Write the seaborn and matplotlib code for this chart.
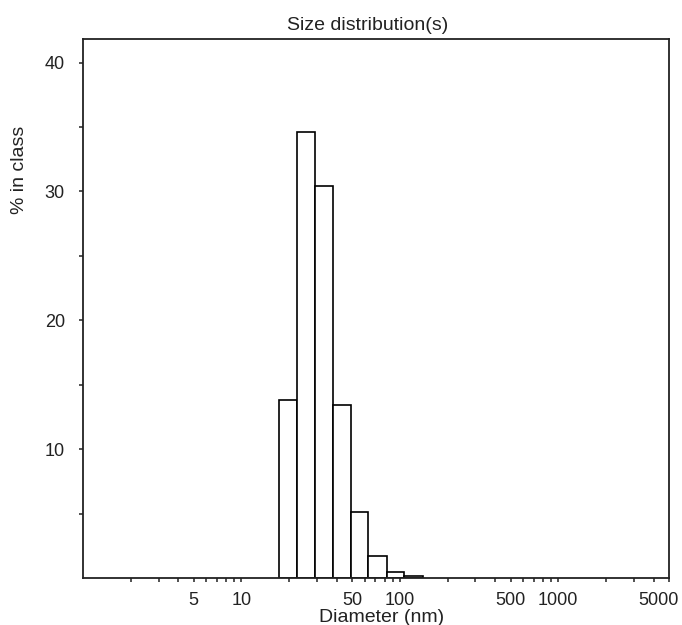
import numpy as np
import pandas as pd
import seaborn as sns
import matplotlib.pyplot as plt
from matplotlib.ticker import FixedLocator, NullFormatter
from matplotlib.transforms import ScaledTranslation

# size classes (nm) and % in class
bin_edges = [17.3, 22.3, 29.1, 37.7, 49.0, 63.3, 82.7, 106.0, 139.0]
pct_in_class = [13.8, 34.6, 30.4, 13.4, 5.1, 1.7, 0.5, 0.15]

x_major = [5, 10, 50, 100, 500, 1000, 5000]
x_minor = [2, 3, 4, 6, 7, 8, 9, 20, 30, 40, 60, 70, 80, 90,
           200, 300, 400, 600, 700, 800, 900, 2000, 3000, 4000]
y_major = [10, 20, 30, 40]
y_minor = [5, 15, 25, 35]

edges = np.array(bin_edges)
df = pd.DataFrame({"diameter": np.sqrt(edges[:-1] * edges[1:]),
                   "pct": pct_in_class})

sns.set_style("ticks")
plt.rcParams["font.family"] = ["Liberation Sans", "DejaVu Sans"]

fig = plt.figure(figsize=(6.82, 6.25), dpi=100)
ax = fig.add_axes([0.1217, 0.0752, 0.981 - 0.1217, 0.937 - 0.0752])

# log_scale -> bins are given in log10 space
sns.histplot(data=df, x="diameter", weights="pct",
             bins=list(np.log10(edges)), log_scale=True,
             color="white", alpha=1, edgecolor="black",
             linewidth=1.2, ax=ax)

ax.set_xlim(1, 5000)
ax.set_ylim(0, 41.8)

ax.xaxis.set_major_locator(FixedLocator(x_major))
ax.xaxis.set_minor_locator(FixedLocator(x_minor))
ax.xaxis.set_minor_formatter(NullFormatter())
ax.set_xticklabels([str(v) for v in x_major])
ax.yaxis.set_major_locator(FixedLocator(y_major))
ax.yaxis.set_minor_locator(FixedLocator(y_minor))

ax.tick_params(axis="both", which="both", direction="out", length=3,
               width=1.1, color="#222222", labelcolor="#222222")
ax.tick_params(axis="x", which="major", labelsize=13, pad=7)
ax.tick_params(axis="y", which="major", labelsize=13, pad=10)

# shift last label inward like the original
lbl = ax.get_xticklabels()[-1]
lbl.set_transform(lbl.get_transform() + ScaledTranslation(-11 / 100, 0, fig.dpi_scale_trans))

for s in ax.spines.values():
    s.set_visible(True)
    s.set_color("#222222")
    s.set_linewidth(1.3)

ax.set_xlabel("")
ax.set_ylabel("")
ax.set_title("Size distribution(s)", fontsize=14, x=0.486, pad=7, color="#222222")
fig.text(382 / 682, 3 / 625, "Diameter (nm)", ha="center", va="baseline",
         fontsize=14, color="#222222")
fig.text(20 / 682, 1 - 170 / 625, "% in class", ha="center", va="center",
         rotation=90, fontsize=14, color="#222222")

fig.savefig("out.png", dpi=100, facecolor="white")
